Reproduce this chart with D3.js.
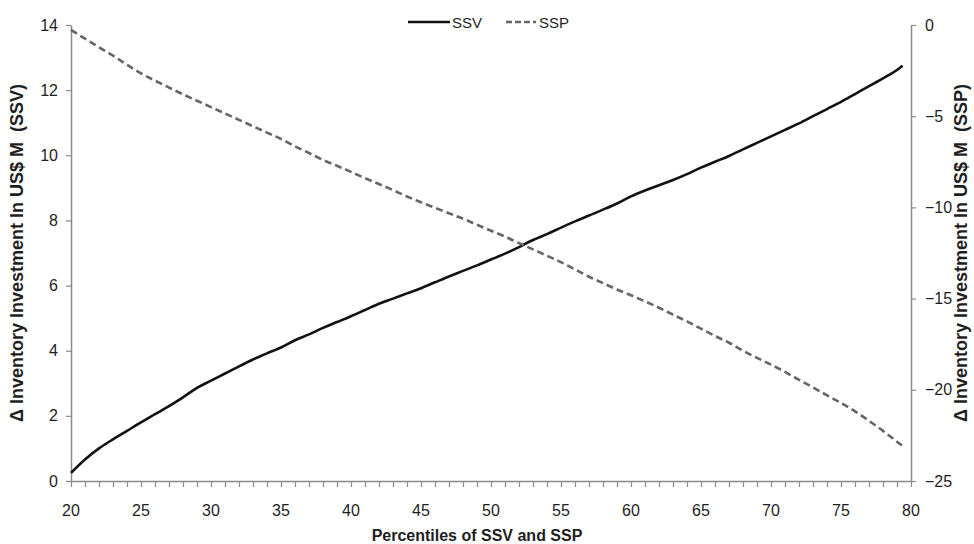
<!DOCTYPE html>
<html>
<head>
<meta charset="utf-8">
<script src="https://cdn.jsdelivr.net/npm/d3@7"></script>
<style>
  html, body { margin: 0; padding: 0; background: #fff; }
  svg { display: block; font-family: "Liberation Sans", Arial, sans-serif; }
</style>
</head>
<body>
<svg id="chart" width="974" height="544"></svg>
<script>
// ---- data ----
const percentiles = [20,21,22,23,24,25,26,27,28,29,30,31,32,33,34,35,36,37,38,39,40,41,42,43,44,45,46,47,48,49,50,51,52,53,54,55,56,57,58,59,60,61,62,63,64,65,66,67,68,69,70,71,72,73,74,75,76,77,78,79,79.4];
const ssv = [0.25,0.66,1.00,1.28,1.54,1.80,2.05,2.30,2.57,2.86,3.08,3.30,3.52,3.73,3.92,4.10,4.32,4.50,4.70,4.88,5.06,5.25,5.44,5.60,5.76,5.92,6.10,6.28,6.45,6.62,6.80,6.98,7.18,7.40,7.58,7.78,7.97,8.15,8.33,8.52,8.74,8.92,9.08,9.24,9.42,9.62,9.80,9.98,10.18,10.38,10.58,10.78,10.98,11.20,11.42,11.64,11.88,12.12,12.36,12.62,12.75];
const ssp = [-0.27,-0.75,-1.22,-1.68,-2.18,-2.65,-3.05,-3.43,-3.80,-4.15,-4.50,-4.85,-5.20,-5.55,-5.90,-6.25,-6.65,-7.02,-7.40,-7.72,-8.05,-8.40,-8.72,-9.05,-9.40,-9.72,-10.02,-10.32,-10.62,-10.95,-11.28,-11.60,-11.96,-12.30,-12.65,-13.00,-13.40,-13.80,-14.15,-14.50,-14.82,-15.15,-15.50,-15.88,-16.25,-16.65,-17.05,-17.42,-17.85,-18.25,-18.62,-19.02,-19.45,-19.87,-20.30,-20.72,-21.18,-21.70,-22.25,-22.85,-23.08];
const xTickLabels = [20,25,30,35,40,45,50,55,60,65,70,75,80];
const leftTicks = [0,2,4,6,8,10,12,14];
const rightTicks = [0,-5,-10,-15,-20,-25];
const seriesNames = ["SSV","SSP"];
const xTitle = "Percentiles of SSV and SSP";
const leftTitle = "\u0394 Inventory Investment In US$ M  (SSV)";
const rightTitle = "\u0394 Inventory Investment In US$ M  (SSP)";

// ---- layout ----
const svg = d3.select("#chart");
const L = 71, R = 911, T = 25, B = 481;
const axisColor = "#8a8a8a";
const textColor = "#1e1e1e";

const x = d3.scaleLinear().domain([20, 80]).range([L, R]);
const yL = d3.scaleLinear().domain([0, 14]).range([B, T]);
const yR = d3.scaleLinear().domain([-25, 0]).range([B, T]);

// x axis: minor ticks every 1, labels every 5
const gx = svg.append("g").attr("transform", `translate(0,${B})`)
  .call(d3.axisBottom(x).tickValues(d3.range(20, 81, 1)).tickSize(6).tickSizeOuter(0).tickFormat(""));
gx.selectAll(".tick text").remove();
gx.append("g").selectAll("text").data(xTickLabels).join("text")
  .attr("x", d => x(d)).attr("y", 35).attr("text-anchor", "middle")
  .attr("font-size", 16).attr("fill", textColor).text(d => d);

const gl = svg.append("g").attr("transform", `translate(${L},0)`)
  .call(d3.axisLeft(yL).tickValues(leftTicks).tickSize(5).tickSizeOuter(0).tickPadding(8).tickFormat(d3.format("d")));
const gr = svg.append("g").attr("transform", `translate(${R},0)`)
  .call(d3.axisRight(yR).tickValues(rightTicks).tickSize(5).tickSizeOuter(0).tickPadding(9).tickFormat(d3.format("d")));

[gx, gl, gr].forEach(g => {
  g.select(".domain").attr("stroke", axisColor).attr("stroke-width", 1.5);
  g.selectAll(".tick line").attr("stroke", axisColor).attr("stroke-width", 1.2);
  g.selectAll(".tick text").attr("font-size", 16).attr("fill", textColor).attr("font-family", "Liberation Sans, Arial, sans-serif");
});

// lines
const pts = percentiles.map((p, i) => ({ p, v: ssv[i], w: ssp[i] }));
svg.append("path").datum(pts)
  .attr("fill", "none").attr("stroke", "#111").attr("stroke-width", 2.6)
  .attr("stroke-linejoin", "round")
  .attr("d", d3.line().curve(d3.curveMonotoneX).x(d => x(d.p)).y(d => yL(d.v)));
svg.append("path").datum(pts)
  .attr("fill", "none").attr("stroke", "#666").attr("stroke-width", 2.6)
  .attr("stroke-dasharray", "7,4")
  .attr("d", d3.line().curve(d3.curveMonotoneX).x(d => x(d.p)).y(d => yR(d.w)));

// titles
svg.append("text").attr("x", 477).attr("y", 541)
  .attr("text-anchor", "middle").attr("font-size", 16).attr("font-weight", "bold").attr("fill", textColor)
  .text(xTitle);
svg.append("text").attr("transform", `translate(23,${(T + B) / 2}) rotate(-90)`)
  .attr("text-anchor", "middle").attr("font-size", 18).attr("font-weight", "bold").attr("fill", textColor)
  .style("white-space", "pre")
  .text(leftTitle);
svg.append("text").attr("transform", `translate(967,${(T + B) / 2}) rotate(-90)`)
  .attr("text-anchor", "middle").attr("font-size", 18).attr("font-weight", "bold").attr("fill", textColor)
  .style("white-space", "pre")
  .text(rightTitle);

// legend
const leg = svg.append("g").attr("transform", "translate(408,22)");
leg.append("line").attr("x1", 0).attr("x2", 42).attr("y1", 0).attr("y2", 0)
  .attr("stroke", "#111").attr("stroke-width", 2.6);
leg.append("text").attr("x", 44).attr("y", 5.5).attr("font-size", 15).attr("fill", textColor).text(seriesNames[0]);
leg.append("line").attr("x1", 98).attr("x2", 128).attr("y1", 0).attr("y2", 0)
  .attr("stroke", "#666").attr("stroke-width", 2.6).attr("stroke-dasharray", "6,3");
leg.append("text").attr("x", 131).attr("y", 5.5).attr("font-size", 15).attr("fill", textColor).text(seriesNames[1]);
</script>
</body>
</html>
